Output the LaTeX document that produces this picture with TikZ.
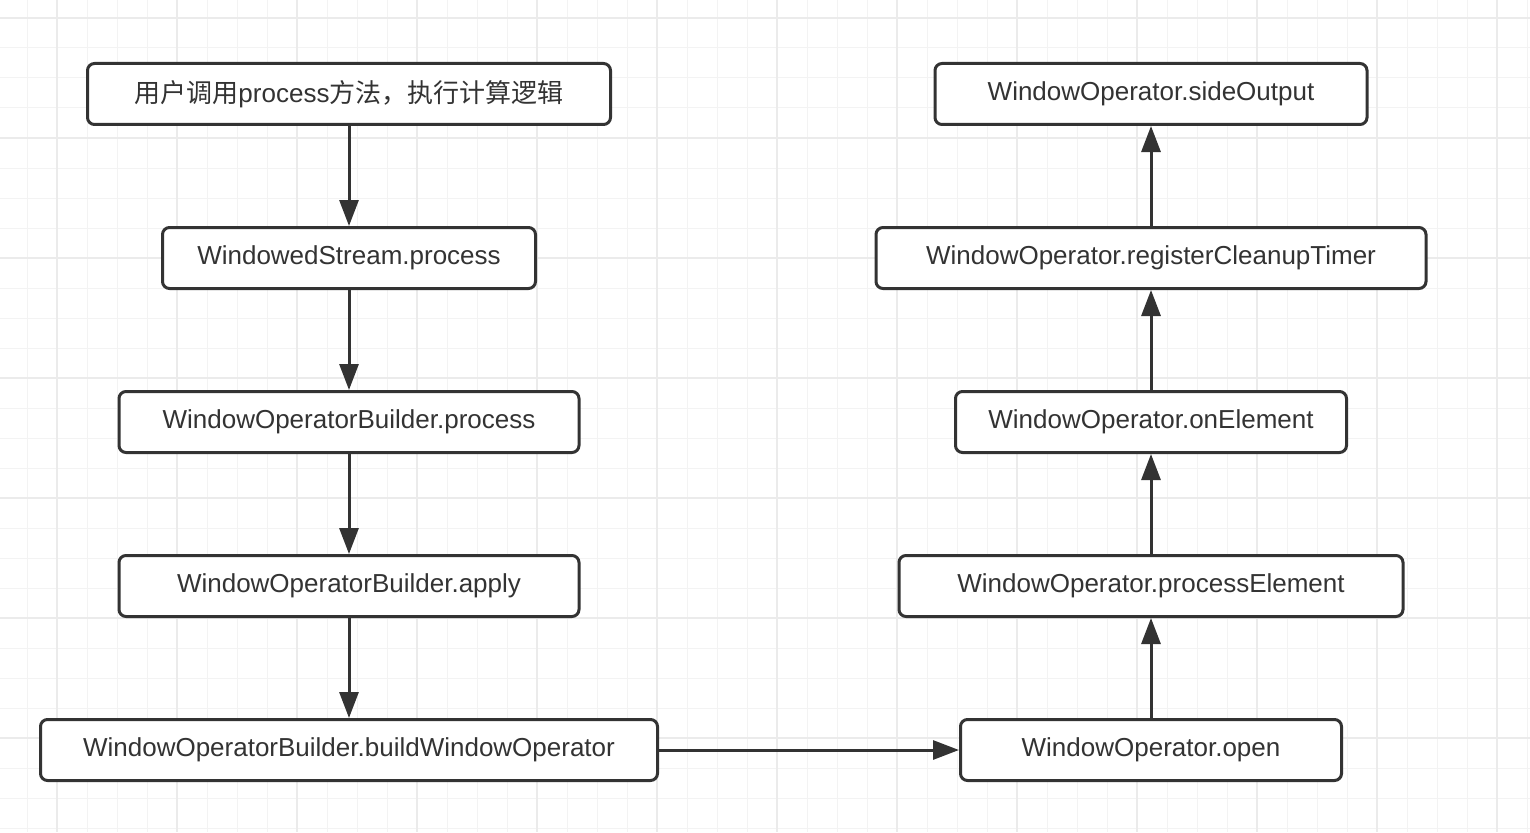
\documentclass[tikz,border=0pt]{standalone}
\usepackage{fontspec}
\setmainfont{Liberation Sans}
\newfontfamily\cjk{Noto Sans CJK SC}
\usetikzlibrary{arrows.meta}
\definecolor{ink}{HTML}{333333}
\definecolor{gridminor}{HTML}{F3F3F3}
\definecolor{gridmajor}{HTML}{EBEBEB}
\tikzset{
  box/.style={draw=ink, line width=3pt, rounded corners=7pt, fill=white,
    minimum height=61pt, inner sep=0pt, text=ink,
    font=\fontsize{26pt}{30pt}\selectfont},
  conn/.style={draw=ink, line width=3pt,
    -{Triangle[length=26pt,width=19pt]}},
}
\begin{document}
\begin{tikzpicture}[x=1pt,y=-1pt]
\useasboundingbox (0,0) rectangle (1530,832);
\fill[white] (0,0) rectangle (1530,832);
% grid
\foreach \x in {-3,27,...,1527} \draw[gridminor, line width=1pt] (\x,0) -- (\x,832);
\foreach \y in {18,48,...,828} \draw[gridminor, line width=1pt] (0,\y) -- (1530,\y);
\foreach \x in {57,177,...,1527} \draw[gridmajor, line width=1.2pt] (\x,0) -- (\x,832);
\foreach \y in {18,138,...,828} \draw[gridmajor, line width=1.2pt] (0,\y) -- (1530,\y);
% left column
\node[box, minimum width=523pt] (a) at (349,94) {{\cjk 用户调用}process{\cjk 方法，执行计算逻辑}};
\node[box, minimum width=373pt] (b) at (349,258) {WindowedStream.process};
\node[box, minimum width=460pt] (c) at (349,422) {WindowOperatorBuilder.process};
\node[box, minimum width=460pt] (d) at (349,586) {WindowOperatorBuilder.apply};
\node[box, minimum width=617pt] (e) at (349,750) {WindowOperatorBuilder.buildWindowOperator};
% right column
\node[box, minimum width=381pt] (f) at (1151,750) {WindowOperator.open};
\node[box, minimum width=504pt] (g) at (1151,586) {WindowOperator.processElement};
\node[box, minimum width=391pt] (h) at (1151,422) {WindowOperator.onElement};
\node[box, minimum width=550pt] (i) at (1151,258) {WindowOperator.registerCleanupTimer};
\node[box, minimum width=432pt] (j) at (1151,94) {WindowOperator.sideOutput};
% connectors
\draw[conn] (a.south) -- (b.north);
\draw[conn] (b.south) -- (c.north);
\draw[conn] (c.south) -- (d.north);
\draw[conn] (d.south) -- (e.north);
\draw[conn] (e.east) -- (f.west);
\draw[conn] (f.north) -- (g.south);
\draw[conn] (g.north) -- (h.south);
\draw[conn] (h.north) -- (i.south);
\draw[conn] (i.north) -- (j.south);
\end{tikzpicture}
\end{document}
